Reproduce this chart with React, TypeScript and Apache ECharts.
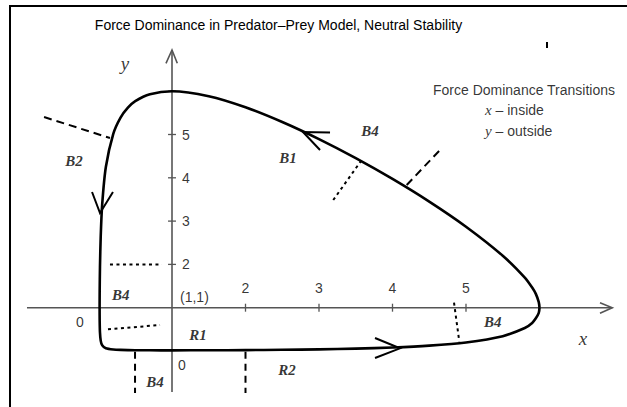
import React, { useEffect, useRef } from "react";
import * as echarts from "echarts";

// Closed orbit (prey x, predator y)
const curveX = [6, 5.99, 5.95, 5.9, 5.8, 5.5, 5, 4.5, 4, 3.5, 3, 2.5, 2, 1.5, 1, 0.7, 0.5, 0.4, 0.3, 0.2, 0.1, 0.05, 0.03, 0.02, 0.016, 0.0151, 0.016, 0.02, 0.03, 0.05, 0.1, 0.2, 0.3, 0.5, 0.7, 1, 1.5, 2, 2.5, 3, 3.5, 4, 4.5, 5, 5.5, 5.8, 5.9, 5.95, 5.99, 6];
const curveY = [1, 1.13, 1.32, 1.465, 1.695, 2.2, 2.87, 3.45, 3.974, 4.455, 4.895, 5.29, 5.63, 5.885, 6, 5.93, 5.77, 5.618, 5.39, 5.01, 4.25, 3.38, 2.64, 1.94, 1.38, 1, 0.7, 0.43, 0.24, 0.131, 0.0645, 0.0345, 0.0253, 0.0183, 0.016, 0.0151, 0.0166, 0.0206, 0.0273, 0.038, 0.0548, 0.081, 0.124, 0.198, 0.343, 0.53, 0.648, 0.755, 0.88, 1];

// Direction arrowheads on the orbit: [arm, tip, arm]
const arrowTopX = [3.15, 2.782, 3.014];
const arrowTopY = [5.046, 5.058, 4.642];
const arrowLeftX = [-0.088, 0.0204, 0.197];
const arrowLeftY = [3.672, 3.187, 3.672];
const arrowBottomX = [3.762, 4.102, 3.762];
const arrowBottomY = [0.3, 0.062, -0.162];

// Axes through the equilibrium (1,1)
const yAxisLineX = [1, 1];
const yAxisLineY = [-0.947, 6.952];
const yArrowX = [0.918, 1, 1.072];
const yArrowY = [6.644, 6.952, 6.644];
const xAxisLineX = [-0.973, 6.99];
const xAxisLineY = [1, 1];
const xArrowX = [6.823, 6.99, 6.823];
const xArrowY = [1.115, 1, 0.871];
const tickValues = [2, 3, 4, 5, 6];
const tickLabels = ["2", "3", "4", "5"];

// Force dominance transition markers
const dashUpperLeftX = [-0.741, 0.156];
const dashUpperLeftY = [5.404, 4.919];
const dotTwoX = [0.156, 0.864];
const dotTwoY = [2, 2];
const dotLowerLeftX = [0.129, 0.837];
const dotLowerLeftY = [0.501, 0.6];
const dashBottomAX = [0.497, 0.497];
const dashBottomAY = [-0.016, -0.97];
const dashBottomBX = [2, 2];
const dashBottomBY = [-0.016, -0.97];
const dotRightX = [4.837, 4.909];
const dotRightY = [1.115, 0.215];
const dotUpperX = [3.194, 3.581];
const dotUpperY = [3.487, 4.411];
const dashUpperX = [4.193, 4.646];
const dashUpperY = [3.834, 4.642];
const markX = [6.102, 6.102];
const markY = [7.136, 6.998];

// Region labels
const regionNames = ["B4", "B1", "B2", "B4", "R1", "B4", "R2", "B4"];
const regionX = [3.694, 2.578, -0.333, 0.302, 1.354, 0.769, 2.565, 5.363];
const regionY = [5.081, 4.457, 4.395, 1.293, 0.37, -0.709, -0.439, 0.677];

const titleText = "Force Dominance in Predator\u2013Prey Model, Neutral Stability";
const legendTitle = "Force Dominance Transitions";

const SANS = "'Liberation Sans', Arial, Helvetica, sans-serif";
const SERIF = "'Liberation Serif', 'Times New Roman', serif";

const pairs = (xs: number[], ys: number[]) => xs.map((x, i) => [x, ys[i]]);

function lineSeries(xs: number[], ys: number[], style: any, extra: any = {}) {
  return {
    type: "line",
    data: pairs(xs, ys),
    showSymbol: false,
    symbol: "none",
    silent: true,
    clip: false,
    lineStyle: { cap: "butt", join: "miter", ...style },
    z: 3,
    ...extra,
  };
}

export default function App() {
  const ref = useRef<HTMLDivElement>(null);

  useEffect(() => {
    if (!ref.current) return;
    const chart = echarts.init(ref.current, null, { renderer: "svg" });

    const curveStyle = { color: "#000", width: 2.6 };
    const arrowStyle = { color: "#000", width: 2 };
    const axisStyle = { color: "#555", width: 1.6 };
    const dashStyle = { color: "#000", width: 2, type: [8, 5] };
    const dotStyle = { color: "#000", width: 2, type: [3, 3.5] };
    const vDashStyle = { color: "#000", width: 2, type: [7, 5] };

    const series: any[] = [];
    series.push(lineSeries(yAxisLineX, yAxisLineY, axisStyle));
    series.push(lineSeries(yArrowX, yArrowY, axisStyle));
    series.push(lineSeries(xAxisLineX, xAxisLineY, axisStyle));
    series.push(lineSeries(xArrowX, xArrowY, axisStyle));
    tickValues.forEach((t) => {
      series.push(lineSeries([t, t], [1.092, 0.908], { color: "#555", width: 1.3 }));
      series.push(lineSeries([0.946, 1.054], [t, t], { color: "#555", width: 1.3 }));
    });
    series.push(lineSeries(curveX, curveY, curveStyle, { smooth: 0.25, z: 5 }));
    series.push(lineSeries(arrowTopX, arrowTopY, arrowStyle, { z: 5 }));
    series.push(lineSeries(arrowLeftX, arrowLeftY, arrowStyle, { z: 5 }));
    series.push(lineSeries(arrowBottomX, arrowBottomY, arrowStyle, { z: 5 }));
    series.push(lineSeries(dashUpperLeftX, dashUpperLeftY, dashStyle));
    series.push(lineSeries(dotTwoX, dotTwoY, dotStyle));
    series.push(lineSeries(dotLowerLeftX, dotLowerLeftY, dotStyle));
    series.push(lineSeries(dashBottomAX, dashBottomAY, vDashStyle));
    series.push(lineSeries(dashBottomBX, dashBottomBY, vDashStyle));
    series.push(lineSeries(dotRightX, dotRightY, dotStyle));
    series.push(lineSeries(dotUpperX, dotUpperY, dotStyle));
    series.push(lineSeries(dashUpperX, dashUpperY, dashStyle));
    series.push(lineSeries(markX, markY, { color: "#000", width: 2 }));

    const texts: any[] = [];
    const tickFont = { fontFamily: SANS, fontSize: 14, color: "#000" };
    tickLabels.forEach((lab, i) => {
      texts.push({ value: [tickValues[i], 1.455], label: { formatter: lab, position: "inside", ...tickFont } });
      texts.push({ value: [1.136, tickValues[i]], label: { formatter: lab, position: "right", distance: 0, ...tickFont } });
    });
    texts.push({ value: [1.109, 1.247], label: { formatter: "(1,1)", position: "right", distance: 0, ...tickFont } });
    texts.push({ value: [-0.252, 0.677], label: { formatter: "0", position: "inside", ...tickFont } });
    texts.push({ value: [1.082, -0.323], label: { formatter: "0", position: "right", distance: 0, ...tickFont } });
    texts.push({ value: [0.361, 6.651], label: { formatter: "y", position: "inside", fontFamily: SERIF, fontStyle: "italic", fontSize: 19, color: "#000" } });
    texts.push({ value: [6.592, 0.3], label: { formatter: "x", position: "inside", fontFamily: SERIF, fontStyle: "italic", fontSize: 19, color: "#000" } });
    regionNames.forEach((n, i) => {
      texts.push({ value: [regionX[i], regionY[i]], label: { formatter: n, position: "inside", fontFamily: SERIF, fontStyle: "italic", fontWeight: "bold", fontSize: 15, color: "#000" } });
    });
    texts.push({ value: [5.789, 6.028], label: { formatter: legendTitle, position: "inside", ...tickFont } });
    const rich = {
      i: { fontFamily: SERIF, fontStyle: "italic", fontSize: 15, color: "#000" },
      s: { fontFamily: SANS, fontSize: 14, color: "#000" },
    };
    texts.push({ value: [5.259, 5.566], label: { formatter: "{i|x}{s| \u2013 inside}", position: "right", distance: 0, rich } });
    texts.push({ value: [5.259, 5.081], label: { formatter: "{i|y}{s| \u2013 outside}", position: "right", distance: 0, rich } });

    series.push({
      type: "scatter",
      data: texts,
      symbolSize: 0,
      silent: true,
      clip: false,
      z: 10,
      label: { show: true },
    });

    chart.setOption({
      animation: false,
      backgroundColor: "#fff",
      grid: { left: 25, top: 26.25, width: 588, height: 368.05, containLabel: false },
      xAxis: { type: "value", min: -1, max: 7, show: false },
      yAxis: { type: "value", min: -1, max: 7.5, show: false },
      graphic: [
        { type: "line", shape: { x1: 10, y1: 6, x2: 627, y2: 6 }, style: { stroke: "#000", lineWidth: 2 } },
        { type: "line", shape: { x1: 10, y1: 5, x2: 10, y2: 407 }, style: { stroke: "#000", lineWidth: 2 } },
        {
          type: "text",
          x: 278.5,
          y: 25,
          style: { text: titleText, fontFamily: SANS, fontSize: 14, fill: "#000", align: "center", verticalAlign: "middle" },
        },
      ],
      series,
    });

    return () => chart.dispose();
  }, []);

  return (
    <div
      ref={ref}
      style={{ position: "fixed", left: 0, top: 0, width: 627, height: 407, background: "#fff" }}
    />
  );
}
